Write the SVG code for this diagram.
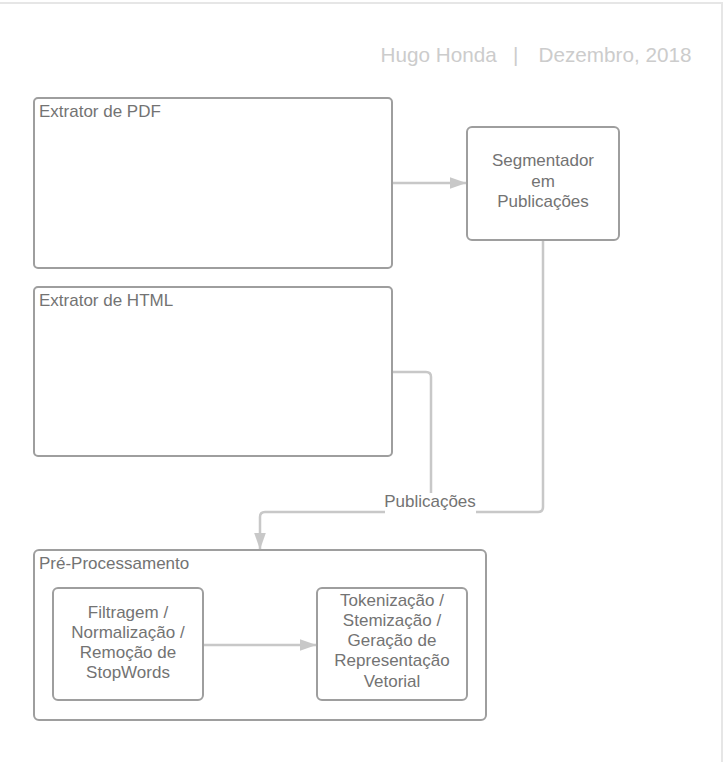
<svg xmlns="http://www.w3.org/2000/svg" width="723" height="762" viewBox="0 0 723 762">
<style>
  .box { fill: #ffffff; stroke: #9e9e9e; stroke-width: 2; }
  .t { font-family: "Liberation Sans", Arial, sans-serif; font-size: 17px; fill: #737373; }
  .c { text-anchor: middle; }
  .hdr { font-family: "Liberation Sans", Arial, sans-serif; font-size: 20.7px; fill: #cccccc; }
  .conn { fill: none; stroke: #c8c8c8; stroke-width: 2.5; stroke-linejoin: round; }
</style>
<defs>
  <marker id="arr" viewBox="0 0 17 12" refX="16.5" refY="6" markerWidth="17" markerHeight="12" markerUnits="userSpaceOnUse" orient="auto">
    <path d="M0,0 L17,6 L0,12 Z" fill="#c8c8c8"/>
  </marker>
</defs>
<rect x="0" y="0" width="723" height="762" fill="#ffffff"/>
<line x1="0" y1="3" x2="723" y2="3" stroke="#e6e6e6" stroke-width="2"/>
<line x1="722" y1="3" x2="722" y2="762" stroke="#e6e6e6" stroke-width="2"/>

<g id="header">
  <text class="hdr" x="380.5" y="62">Hugo Honda</text>
  <text class="hdr" x="513" y="62">|</text>
  <text class="hdr" x="538.5" y="62">Dezembro, 2018</text>
</g>

<g id="extrator-pdf">
  <rect class="box" x="34" y="98" width="358" height="170" rx="4"/>
  <text class="t" x="39" y="116.5">Extrator de PDF</text>
</g>

<g id="extrator-html">
  <rect class="box" x="34" y="287" width="358" height="169" rx="4"/>
  <text class="t" x="39" y="305.5">Extrator de HTML</text>
</g>

<g id="segmentador">
  <rect class="box" x="467" y="127" width="152" height="113" rx="5"/>
  <text class="t c" x="543" y="166">Segmentador</text>
  <text class="t c" x="543" y="186.5">em</text>
  <text class="t c" x="543" y="206.5">Publicações</text>
</g>

<g id="pre-processamento">
  <rect class="box" x="34" y="550" width="452" height="170" rx="5"/>
  <text class="t" x="39" y="568.5">Pré-Processamento</text>
</g>

<g id="filtragem">
  <rect class="box" x="53" y="588" width="150" height="112" rx="5"/>
  <text class="t c" x="128" y="617.5">Filtragem /</text>
  <text class="t c" x="128" y="637.5">Normalização /</text>
  <text class="t c" x="128" y="657.5">Remoção de</text>
  <text class="t c" x="128" y="677.5">StopWords</text>
</g>

<g id="tokenizacao">
  <rect class="box" x="317" y="588" width="150" height="112" rx="5"/>
  <text class="t c" x="392" y="606">Tokenização /</text>
  <text class="t c" x="392" y="626">Stemização /</text>
  <text class="t c" x="392" y="646">Geração de</text>
  <text class="t c" x="392" y="666">Representação</text>
  <text class="t c" x="392" y="687">Vetorial</text>
</g>

<g id="connectors">
  <path class="conn" d="M393,183 H466" marker-end="url(#arr)"/>
  <path class="conn" d="M543,241 V507 Q543,512 538,512 H476"/>
  <path class="conn" d="M393,372 H426 Q431,372 431,377 V493"/>
  <path class="conn" d="M385,512 H265 Q260,512 260,517 V549" marker-end="url(#arr)"/>
  <path class="conn" d="M204,645 H316" marker-end="url(#arr)"/>
  <text class="t c" x="430" y="507">Publicações</text>
</g>
</svg>
